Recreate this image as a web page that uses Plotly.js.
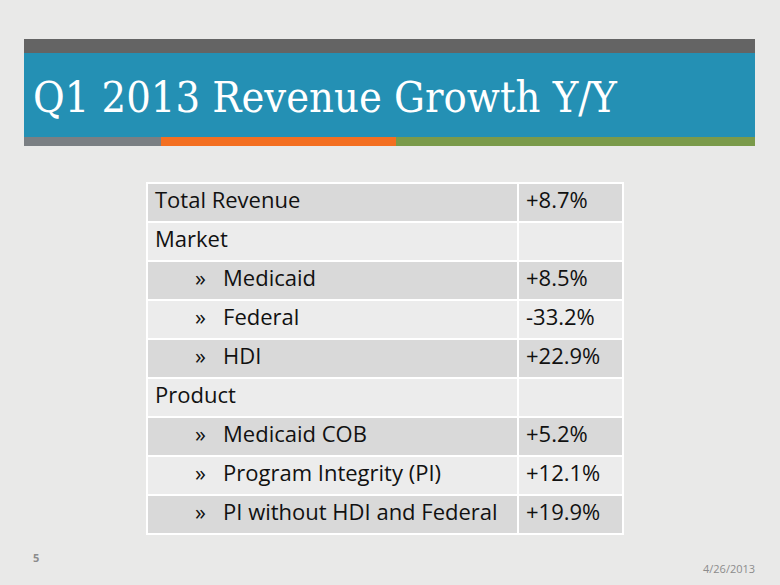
<!DOCTYPE html>
<html>
<head>
<meta charset="utf-8">
<script src="https://cdn.plot.ly/plotly-3.0.1.min.js"></script>
<style>html,body{margin:0;padding:0;background:#e9e9e8;}#chart{width:780px;height:585px;}</style>
</head>
<body>
<div id="chart"></div>
<script>
// Data
var headerLabel = "Total Revenue";
var headerValue = "+8.7%";
var rowLabels = ["Market", "Medicaid", "Federal", "HDI", "Product", "Medicaid COB", "Program Integrity (PI)", "PI without HDI and Federal"];
var rowIsSub = [false, true, true, true, false, true, true, true];
var rowValues = ["", "+8.5%", "-33.2%", "+22.9%", "", "+5.2%", "+12.1%", "+19.9%"];
var titleText = "Q1 2013 Revenue Growth Y/Y";
var slideNumber = "5";
var slideDate = "4/26/2013";

var NB = "\u00a0";
var labels = rowLabels.map(function(l, i){
  return rowIsSub[i] ? NB+NB+NB+NB+NB+NB+NB+"»"+NB+NB+NB+l : l;
});
var dark = "#d9d9d9", light = "#ececec";
var fills = rowLabels.map(function(_, i){ return i % 2 === 0 ? light : dark; });

var W = 780, H = 585;
var tblL = 147, tblR = 623, tblT = 183, tblB = 537;
var tfont = {family: "'Open Sans', sans-serif", size: 22, color: "#111111"};

var trace = {
  type: "table",
  domain: {x: [tblL/W, tblR/W], y: [1 - tblB/H, 1 - tblT/H]},
  columnwidth: [371, 105],
  header: {
    values: [headerLabel, headerValue],
    align: "left",
    height: 39,
    fill: {color: dark},
    line: {color: "#ffffff", width: 2},
    font: tfont
  },
  cells: {
    values: [labels, rowValues],
    align: "left",
    height: 39,
    fill: {color: [fills, fills]},
    line: {color: "#ffffff", width: 2},
    font: tfont
  }
};

var layout = {
  width: W, height: H,
  margin: {l: 0, r: 0, t: 0, b: 0},
  paper_bgcolor: "#e9e9e8",
  plot_bgcolor: "#e9e9e8",
  showlegend: false,
  title: {
    text: titleText,
    x: 33/W, xanchor: "left", xref: "paper",
    y: 1 - 97/H, yanchor: "middle", yref: "container",
    font: {family: "'DejaVu Serif Condensed', 'Liberation Serif', serif", size: 43, color: "#ffffff"}
  },
  shapes: [
    {type: "rect", xref: "paper", yref: "paper", x0: 24/W, x1: 755/W, y0: 1-53/H, y1: 1-39/H, fillcolor: "#646464", line: {width: 0}, layer: "below"},
    {type: "rect", xref: "paper", yref: "paper", x0: 24/W, x1: 755/W, y0: 1-137/H, y1: 1-53/H, fillcolor: "#2490b4", line: {width: 0}, layer: "below"},
    {type: "rect", xref: "paper", yref: "paper", x0: 24/W, x1: 161/W, y0: 1-146/H, y1: 1-137/H, fillcolor: "#7a7f83", line: {width: 0}, layer: "below"},
    {type: "rect", xref: "paper", yref: "paper", x0: 161/W, x1: 396/W, y0: 1-146/H, y1: 1-137/H, fillcolor: "#f36f21", line: {width: 0}, layer: "below"},
    {type: "rect", xref: "paper", yref: "paper", x0: 396/W, x1: 755/W, y0: 1-146/H, y1: 1-137/H, fillcolor: "#7a9a4a", line: {width: 0}, layer: "below"}
  ],
  annotations: [
    {text: "<b>" + slideNumber + "</b>", xref: "paper", yref: "paper", x: 31/W, y: 1-557/H, xanchor: "left", yanchor: "middle", showarrow: false,
     font: {family: "'Open Sans', sans-serif", size: 11, color: "#8c8c8c"}},
    {text: slideDate, xref: "paper", yref: "paper", x: 757/W, y: 1-568/H, xanchor: "right", yanchor: "middle", showarrow: false,
     font: {family: "'Open Sans', sans-serif", size: 11, color: "#8c8c8c"}}
  ]
};

Plotly.newPlot("chart", [trace], layout, {displayModeBar: false, staticPlot: true});
</script>
</body>
</html>
